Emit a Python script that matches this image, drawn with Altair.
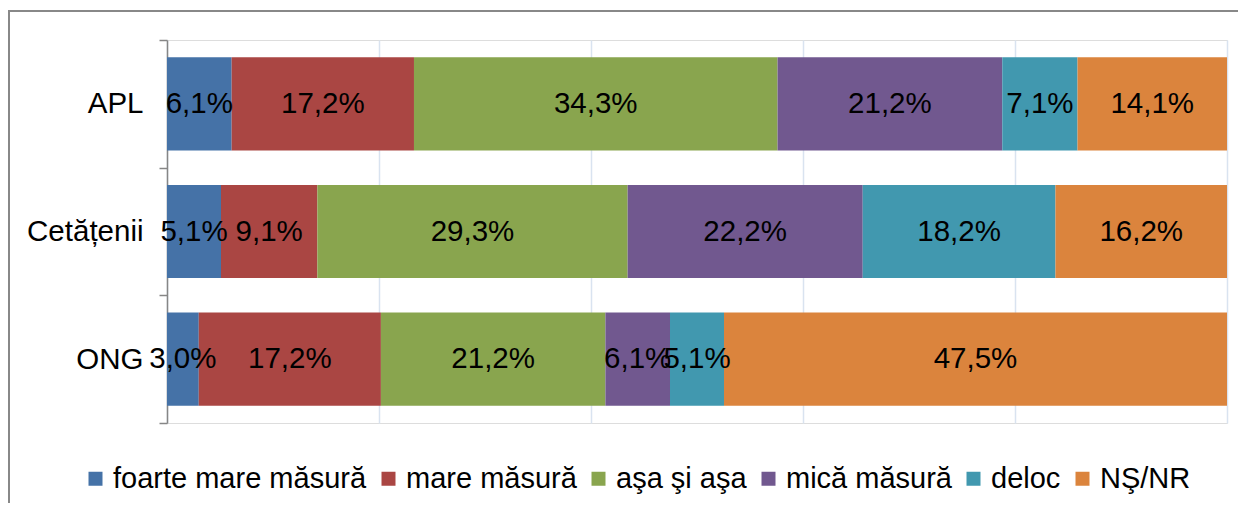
import altair as alt
import pandas as pd

groups = ["APL", "Cetățenii", "ONG"]
answers = ["foarte mare măsură", "mare măsură", "aşa şi aşa", "mică măsură", "deloc", "NŞ/NR"]
colors = ["#4572A7", "#AA4643", "#89A54E", "#71588F", "#4198AF", "#DB843D"]
apl = [6.1, 17.2, 34.3, 21.2, 7.1, 14.1]
cetatenii = [5.1, 9.1, 29.3, 22.2, 18.2, 16.2]
ong = [3.0, 17.2, 21.2, 6.1, 5.1, 47.5]
grid_values = [0, 0.2, 0.4, 0.6, 0.8, 1.0]

rows = []
for g, vals in zip(groups, [apl, cetatenii, ong]):
    for i, (a, v) in enumerate(zip(answers, vals)):
        rows.append({"grup": g, "raspuns": a, "ord": i, "v": v,
                     "lbl": f"{v:.1f}".replace(".", ",") + "%"})
df = pd.DataFrame(rows)

FONT = "Liberation Sans"

base = alt.Chart(df).transform_stack(
    stack="v", groupby=["grup"], as_=["v0", "v1"], offset="normalize",
    sort=[alt.SortField("ord", order="ascending")]
)

xscale = alt.Scale(domain=[0, 1], nice=False, zero=False)
yenc = alt.Y("grup:N", sort=groups, title=None,
             scale=alt.Scale(paddingInner=0, paddingOuter=0),
             axis=alt.Axis(tickBand="extent", labelFontSize=29.5, labelFont=FONT,
                           labelColor="#000000", domainColor="#868686", domainWidth=1.5,
                           tickColor="#868686", tickSize=8, tickWidth=1.5, labelPadding=16,
                           grid=False))

bars = base.mark_bar(height={"band": 0.73}).encode(
    x=alt.X("v0:Q", scale=xscale, title=None,
            axis=alt.Axis(values=grid_values, labels=False, ticks=False, domain=False,
                          grid=True, gridColor="#d9e3f0", gridWidth=1.5)),
    x2="v1:Q",
    y=yenc,
    color=alt.Color("raspuns:N", sort=answers,
                    scale=alt.Scale(domain=answers, range=colors),
                    legend=alt.Legend(title=None, orient="none", direction="horizontal",
                                      legendX=-86, legendY=424, labelFontSize=29,
                                      labelFont=FONT, labelColor="#000000",
                                      symbolType="square", symbolSize=196,
                                      symbolStrokeWidth=0, labelOffset=3,
                                      columnPadding=7, labelLimit=400)),
)

texts = base.transform_calculate(mid="(datum.v0 + datum.v1) / 2").mark_text(
    fontSize=29.5, font=FONT, color="#000000", align="center", baseline="middle"
).encode(
    x=alt.X("mid:Q", scale=xscale),
    y=alt.Y("grup:N", sort=groups),
    text="lbl:N",
)

frame = alt.Chart(pd.DataFrame({"a": [0]})).mark_rect(
    fill=None, stroke="#888888", strokeWidth=2
).encode(
    x=alt.value(-158), x2=alt.value(1300), y=alt.value(-29), y2=alt.value(700)
)

chart = alt.layer(frame, bars, texts).properties(
    width=1060, height=383,
    autosize=alt.AutoSizeParams(type="none"),
    padding={"left": 159, "top": 32, "right": 11, "bottom": 80},
).configure_view(stroke=None).configure(background="#ffffff")

chart.save("out.html", embed_options={"renderer": "svg", "actions": False})
